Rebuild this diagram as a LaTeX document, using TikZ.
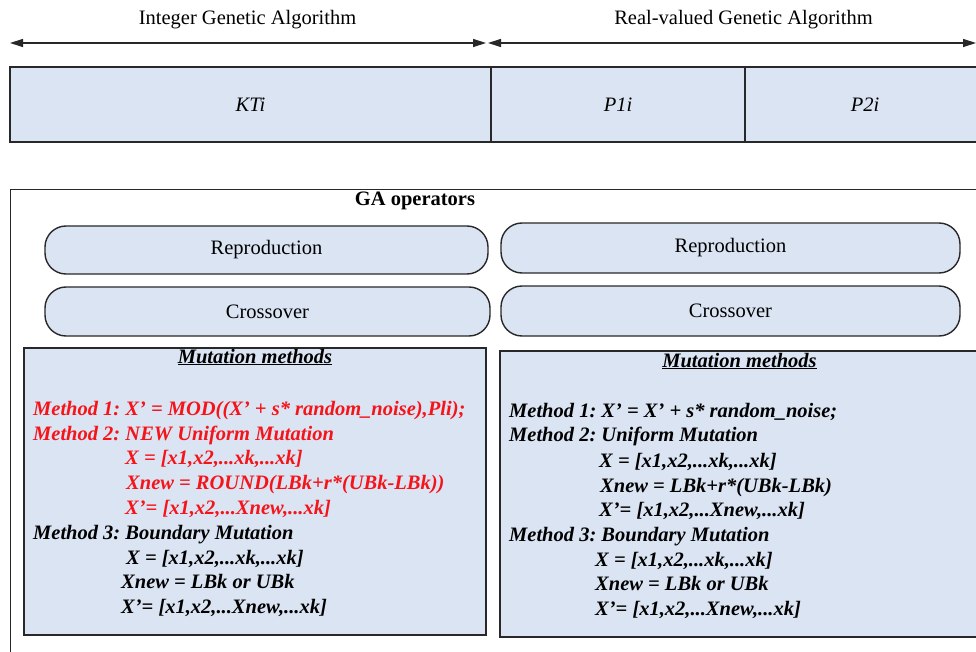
\documentclass[tikz,border=0pt]{standalone}
\usepackage{fontspec}
\setmainfont{Liberation Serif}
\usetikzlibrary{arrows.meta}
\definecolor{boxblue}{RGB}{219,228,243}
\definecolor{edge}{RGB}{40,40,40}
\definecolor{mred}{RGB}{245,20,25}
\frenchspacing
\begin{document}
\begin{tikzpicture}[x=1pt,y=-1pt,
  basefont/.style={font=\fontsize{20.5}{24}\selectfont},
  cell/.style={draw=edge, line width=1.4pt, fill=boxblue, inner sep=0pt, basefont},
  pill/.style={draw=edge, line width=1.4pt, fill=boxblue, rounded corners=21pt, inner sep=0pt, basefont},
  frame/.style={draw=edge, line width=1.4pt, inner sep=0pt},
  lbl/.style={inner sep=0pt, basefont},
  mtxt/.style={inner sep=0pt, anchor=base west, font=\fontsize{20.5}{24}\selectfont\bfseries\itshape},
  mtitle/.style={inner sep=0pt, anchor=base, font=\fontsize{20.5}{24}\selectfont\bfseries\itshape},
  dimline/.style={draw=edge, line width=1.3pt, {Triangle[length=13pt,width=8pt]}-{Triangle[length=13pt,width=8pt]}}
]
\useasboundingbox (0,0) rectangle (976,652);
\clip (0,0) rectangle (976,652);

% top labels
\node[lbl, anchor=base] (lint) at (247.5,25) {Integer Genetic Algorithm};
\node[lbl, anchor=base] (lreal) at (743.5,25) {Real-valued Genetic Algorithm};

% dimension arrows
\coordinate (a1) at (10,43);
\coordinate (a2) at (486,43);
\coordinate (b1) at (488,43);
\coordinate (b2) at (976,43);
\draw[dimline] (a1) -- (a2);
\draw[dimline] (b1) -- (b2);

% chromosome row
\node[cell, minimum width=481pt, minimum height=75pt] (kti) at (250.5,104.5) {\itshape KTi};
\node[cell, minimum width=254pt, minimum height=75pt] (p1i) at (618,104.5) {\itshape P1i};
\node[cell, minimum width=240pt, minimum height=75pt] (p2i) at (865,104.5) {\itshape P2i};

% GA operators frame
\node[frame, anchor=north west, minimum width=1000pt, minimum height=520pt] (gabox) at (10,189) {};
\node[lbl, anchor=base, font=\fontsize{20.5}{24}\selectfont\bfseries] (gatitle) at (415,206) {GA operators};

% pills
\node[pill, minimum width=443pt, minimum height=48pt] (repl) at (266.5,250) {Reproduction};
\node[pill, minimum width=445pt, minimum height=49pt] (crol) at (267.5,311.5) {Crossover};
\node[pill, minimum width=459pt, minimum height=50pt] (repr) at (730.5,248) {Reproduction};
\node[pill, minimum width=459pt, minimum height=50pt] (cror) at (730.5,311) {Crossover};

% mutation boxes
\node[cell, minimum width=462pt, minimum height=287pt] (mutl) at (255,491.5) {};
\node[cell, minimum width=500pt, minimum height=286pt] (mutr) at (750,494) {};

% left mutation text
\node[mtitle] (tl) at (255,363) {\underline{Mutation methods}};
\begin{scope}[every node/.append style={text=mred}]
\node[mtxt] (l1) at (33,415) {Method 1: X' = MOD((X' + s* random\_noise),Pli);};
\node[mtxt] (l2) at (33,440) {Method 2: NEW Uniform Mutation};
\node[mtxt] (l3) at (125,464) {X = [x1,x2,...xk,...xk]};
\node[mtxt] (l4) at (126,489) {Xnew = ROUND(LBk+r*(UBk-LBk))};
\node[mtxt] (l5) at (125,514) {X'= [x1,x2,...Xnew,...xk]};
\end{scope}
\node[mtxt] (l6) at (33,539) {Method 3: Boundary Mutation};
\node[mtxt] (l7) at (126,564) {X = [x1,x2,...xk,...xk]};
\node[mtxt] (l8) at (121,588) {Xnew = LBk or UBk};
\node[mtxt] (l9) at (121,613) {X'= [x1,x2,...Xnew,...xk]};

% right mutation text
\node[mtitle] (tr) at (739.5,367) {\underline{Mutation methods}};
\node[mtxt] (r1) at (509,417) {Method 1: X' = X' + s* random\_noise;};
\node[mtxt] (r2) at (509,441) {Method 2: Uniform Mutation};
\node[mtxt] (r3) at (599,467) {X = [x1,x2,...xk,...xk]};
\node[mtxt] (r4) at (600,492) {Xnew = LBk+r*(UBk-LBk)};
\node[mtxt] (r5) at (599,516) {X'= [x1,x2,...Xnew,...xk]};
\node[mtxt] (r6) at (509,541) {Method 3: Boundary Mutation};
\node[mtxt] (r7) at (595,566) {X = [x1,x2,...xk,...xk]};
\node[mtxt] (r8) at (595,590) {Xnew = LBk or UBk};
\node[mtxt] (r9) at (595,615) {X'= [x1,x2,...Xnew,...xk]};
\end{tikzpicture}
\end{document}
